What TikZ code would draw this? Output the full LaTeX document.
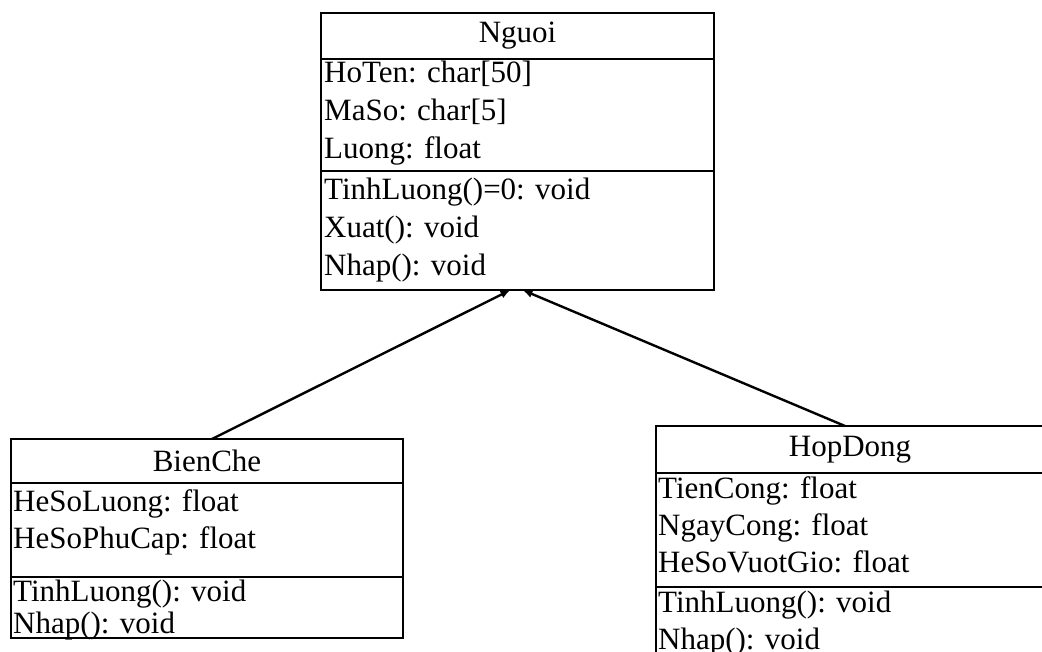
\documentclass[tikz,border=0pt]{standalone}
\usepackage{fontspec}
\setmainfont{Liberation Serif}
\usetikzlibrary{arrows.meta,positioning}

\begin{document}
\begin{tikzpicture}[x=1pt, y=-1pt,
  classpart/.style={draw, line width=1.8pt, outer sep=0pt, inner sep=0pt,
    anchor=north west},
  classname/.style={classpart, font=\fontsize{31}{37}\selectfont},
  member/.style={anchor=base west, inner sep=0pt, font=\fontsize{31}{37}\selectfont},
  arrow/.style={-{Latex[length=10pt,width=8pt]}, line width=2.4pt}
]
\useasboundingbox (0,0) rectangle (1042,652);

% Nguoi
\node[classname, minimum width=393pt, minimum height=46pt] (nguoi) at (321,13) {Nguoi};
\node[classpart, minimum width=393pt, minimum height=112pt, below=0pt of nguoi] (nguoi-attr) {};
\node[classpart, minimum width=393pt, minimum height=119pt, below=0pt of nguoi-attr] (nguoi-meth) {};
\node[member] (ng-a1) at (324,83) {HoTen: char[50]};
\node[member] (ng-a2) at (324,121) {MaSo: char[5]};
\node[member] (ng-a3) at (324,159) {Luong: float};
\node[member] (ng-m1) at (324,200) {TinhLuong()=0: void};
\node[member] (ng-m2) at (324,238) {Xuat(): void};
\node[member] (ng-m3) at (324,276) {Nhap(): void};

% BienChe
\node[classname, minimum width=392pt, minimum height=44pt] (bienche) at (11,439) {BienChe};
\node[classpart, minimum width=392pt, minimum height=94pt, below=0pt of bienche] (bienche-attr) {};
\node[classpart, minimum width=392pt, minimum height=61pt, below=0pt of bienche-attr] (bienche-meth) {};
\node[member] (bc-a1) at (13,511) {HeSoLuong: float};
\node[member] (bc-a2) at (13,548) {HeSoPhuCap: float};
\node[member] (bc-m1) at (13,601) {TinhLuong(): void};
\node[member] (bc-m2) at (13,633) {Nhap(): void};

% HopDong
\node[classname, minimum width=388pt, minimum height=47pt] (hopdong) at (656,426) {HopDong};
\node[classpart, minimum width=388pt, minimum height=114pt, below=0pt of hopdong] (hopdong-attr) {};
\node[classpart, minimum width=388pt, minimum height=80pt, below=0pt of hopdong-attr] (hopdong-meth) {};
\node[member] (hd-a1) at (658,498) {TienCong: float};
\node[member] (hd-a2) at (658,535) {NgayCong: float};
\node[member] (hd-a3) at (658,572) {HeSoVuotGio: float};
\node[member] (hd-m1) at (658,612) {TinhLuong(): void};
\node[member] (hd-m2) at (658,649) {Nhap(): void};

% inheritance
\draw[arrow] ([xshift=5pt]bienche.north) -- ([xshift=-7pt]nguoi-meth.south);
\draw[arrow] ([xshift=-5pt]hopdong.north) -- ([xshift=5pt]nguoi-meth.south);
\end{tikzpicture}
\end{document}
